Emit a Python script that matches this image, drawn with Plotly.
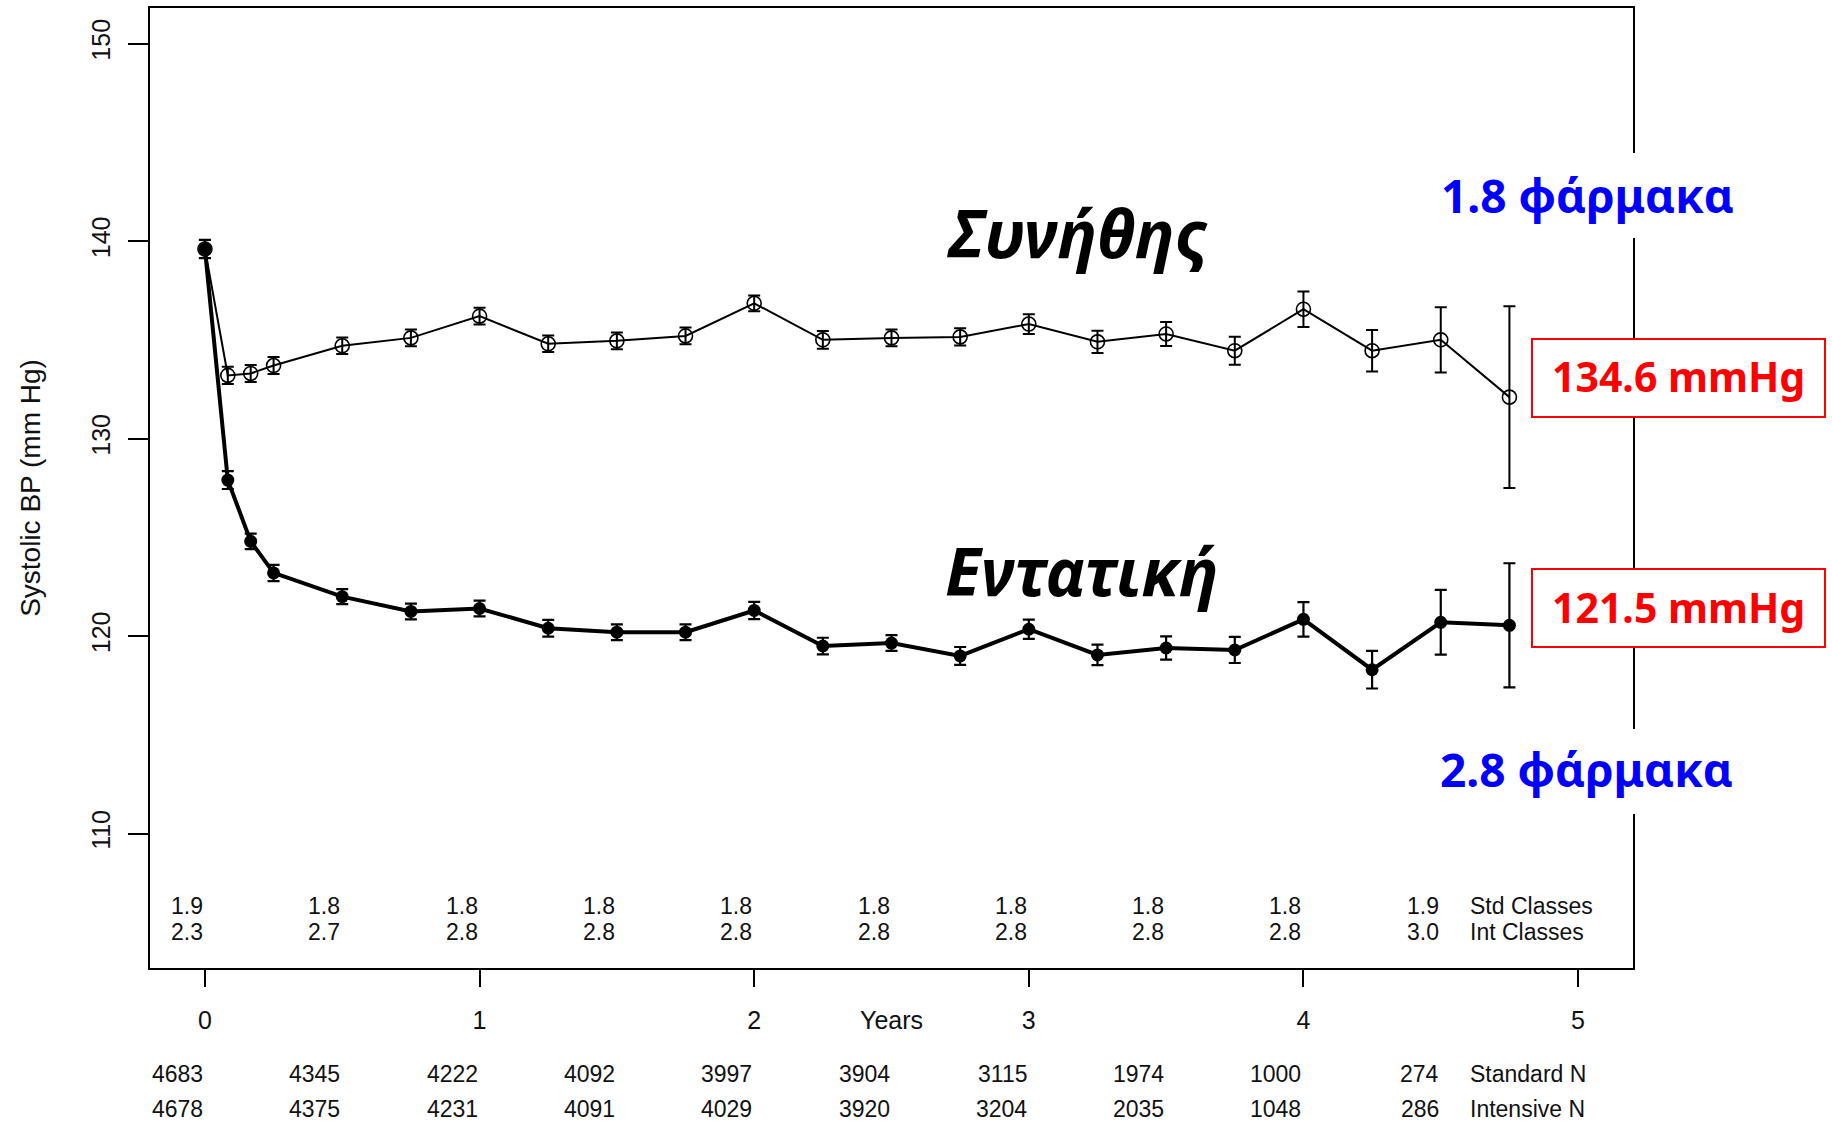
import plotly.graph_objects as go

# ---------------- data ----------------
years = [0, 1/12, 2/12, 3/12, 0.5, 0.75, 1.0, 1.25, 1.5, 1.75, 2.0, 2.25, 2.5, 2.75,
         3.0, 3.25, 3.5, 3.75, 4.0, 4.25, 4.5, 4.75]
standard_sbp = [139.6, 133.2, 133.3, 133.7, 134.7, 135.1, 136.2, 134.8, 134.95, 135.2,
                136.85, 135.0, 135.1, 135.15, 135.8, 134.9, 135.3, 134.45, 136.55,
                134.45, 135.0, 132.1]
standard_se = [0.46, 0.44, 0.43, 0.43, 0.42, 0.42, 0.42, 0.42, 0.42, 0.42, 0.40, 0.45,
               0.42, 0.44, 0.50, 0.56, 0.61, 0.71, 0.90, 1.05, 1.65, 4.60]
intensive_sbp = [139.6, 127.9, 124.8, 123.2, 122.0, 121.25, 121.4, 120.4, 120.2, 120.2,
                 121.3, 119.5, 119.65, 119.0, 120.35, 119.05, 119.4, 119.3, 120.85,
                 118.3, 120.7, 120.55]
intensive_se = [0.46, 0.45, 0.39, 0.41, 0.38, 0.40, 0.40, 0.42, 0.40, 0.40, 0.44, 0.42,
                0.40, 0.45, 0.49, 0.52, 0.59, 0.66, 0.87, 0.95, 1.64, 3.14]

table_years = [0, 0.5, 1.0, 1.5, 2.0, 2.5, 3.0, 3.5, 4.0, 4.5]
std_classes = ["1.9", "1.8", "1.8", "1.8", "1.8", "1.8", "1.8", "1.8", "1.8", "1.9"]
int_classes = ["2.3", "2.7", "2.8", "2.8", "2.8", "2.8", "2.8", "2.8", "2.8", "3.0"]
standard_n = ["4683", "4345", "4222", "4092", "3997", "3904", "3115", "1974", "1000", "274"]
intensive_n = ["4678", "4375", "4231", "4091", "4029", "3920", "3204", "2035", "1048", "286"]
row_labels = ["Std Classes", "Int Classes", "Standard N", "Intensive N"]

x_ticks = [0, 1, 2, 3, 4, 5]
y_ticks = [110, 120, 130, 140, 150]

label_standard = "Συνήθης"
label_intensive = "Εντατική"
drugs_standard = "1.8 φάρμακα"
drugs_intensive = "2.8 φάρμακα"
final_standard = "134.6 mmHg"
final_intensive = "121.5 mmHg"

# ---------------- layout geometry ----------------
W, H = 1832, 1122
PL, PT, PR, PB = 150, 8, 1633, 968


def px_x(p):
    return (p - PL) / (PR - PL)


def px_y(p):
    return (PB - p) / (PB - PT)


R_FONT = "Liberation Sans, Arial, sans-serif"
G_FONT = "Noto Sans, Open Sans, sans-serif"

fig = go.Figure()

fig.add_trace(go.Scatter(
    x=years, y=standard_sbp, mode="lines+markers", name="Standard",
    line=dict(color="black", width=2),
    marker=dict(symbol="circle-open", size=14, color="black", line=dict(width=1.6)),
    error_y=dict(type="data", array=standard_se, visible=True, color="black",
                 thickness=2, width=6),
))
fig.add_trace(go.Scatter(
    x=years, y=intensive_sbp, mode="lines+markers", name="Intensive",
    line=dict(color="black", width=4),
    marker=dict(symbol="circle", size=13, color="black"),
    error_y=dict(type="data", array=intensive_se, visible=True, color="black",
                 thickness=2.2, width=6),
))

ann = []
# bottom table rows (right-aligned at each half-year)
rows = [(std_classes, 906), (int_classes, 932), (standard_n, 1074), (intensive_n, 1109)]
for (vals, ypx), lab in zip(rows, row_labels):
    for xv, t in zip(table_years, vals):
        ann.append(dict(x=xv, xref="x", y=px_y(ypx), yref="paper", text=t,
                        showarrow=False, xanchor="right", yanchor="middle",
                        font=dict(family=R_FONT, size=23, color="#111")))
    ann.append(dict(x=4.6, xref="x", y=px_y(ypx), yref="paper", text=lab,
                    showarrow=False, xanchor="left", yanchor="middle",
                    font=dict(family=R_FONT, size=23, color="#111")))

ann.append(dict(x=2.5, xref="x", y=px_y(1020), yref="paper", text="Years",
                showarrow=False, xanchor="center", yanchor="middle",
                font=dict(family=R_FONT, size=25, color="#111")))

# group labels
ann.append(dict(x=px_x(1078), xref="paper", y=px_y(232), yref="paper", text=f"<b><i>{label_standard}</i></b>",
                showarrow=False, xanchor="center", yanchor="middle",
                font=dict(family=G_FONT, size=66, color="black")))
ann.append(dict(x=px_x(1082), xref="paper", y=px_y(570), yref="paper", text=f"<b><i>{label_intensive}</i></b>",
                showarrow=False, xanchor="center", yanchor="middle",
                font=dict(family=G_FONT, size=66, color="black")))

# drugs labels
ann.append(dict(x=px_x(1587), xref="paper", y=px_y(195), yref="paper", text=f"<b>{drugs_standard}</b>",
                showarrow=False, xanchor="center", yanchor="middle",
                font=dict(family=G_FONT, size=46, color="#0000FF")))
ann.append(dict(x=px_x(1586), xref="paper", y=px_y(769), yref="paper", text=f"<b>{drugs_intensive}</b>",
                showarrow=False, xanchor="center", yanchor="middle",
                font=dict(family=G_FONT, size=46, color="#0000FF")))

# final values in red boxes
ann.append(dict(x=px_x(1678), xref="paper", y=px_y(376), yref="paper", text=f"<b>{final_standard}</b>",
                showarrow=False, xanchor="center", yanchor="middle",
                font=dict(family=G_FONT, size=41, color="#FF0000")))
ann.append(dict(x=px_x(1678), xref="paper", y=px_y(607), yref="paper", text=f"<b>{final_intensive}</b>",
                showarrow=False, xanchor="center", yanchor="middle",
                font=dict(family=G_FONT, size=41, color="#FF0000")))

shapes = []
# white gaps in the frame behind the blue text
for y0, y1 in [(153, 238), (729, 814)]:
    shapes.append(dict(type="rect", xref="paper", yref="paper", layer="above",
                       x0=px_x(1430), x1=px_x(1745), y0=px_y(y1), y1=px_y(y0),
                       fillcolor="white", line=dict(width=0)))
# red boxes
for y0, y1 in [(339, 417), (569, 647)]:
    shapes.append(dict(type="rect", xref="paper", yref="paper", layer="above",
                       x0=px_x(1532), x1=px_x(1825), y0=px_y(y1), y1=px_y(y0),
                       fillcolor="white", line=dict(color="#FF0000", width=2)))

fig.update_layout(
    width=W, height=H,
    margin=dict(l=PL, r=W - PR, t=PT, b=H - PB, autoexpand=False),
    paper_bgcolor="white", plot_bgcolor="white",
    showlegend=False,
    annotations=ann, shapes=shapes,
    xaxis=dict(range=[-0.2, 5.2], tickvals=x_ticks, ticks="outside", ticklen=17,
               tickwidth=1.6, tickcolor="black", showgrid=False, zeroline=False,
               showline=True, mirror=True, linecolor="black", linewidth=2,
               tickfont=dict(family=R_FONT, size=25, color="#111"),
               ticklabelstandoff=12),
    yaxis=dict(range=[103.2, 151.8], tickvals=y_ticks, ticks="outside", ticklen=20,
               tickwidth=1.6, tickcolor="black", showgrid=False, zeroline=False,
               showline=True, mirror=True, linecolor="black", linewidth=2,
               tickangle=-90,
               tickfont=dict(family=R_FONT, size=25, color="#111"),
               ticklabelstandoff=8,
               title=dict(text="Systolic BP (mm Hg)", standoff=38,
                          font=dict(family=R_FONT, size=28, color="#111"))),
)

fig.write_html("out.html")
